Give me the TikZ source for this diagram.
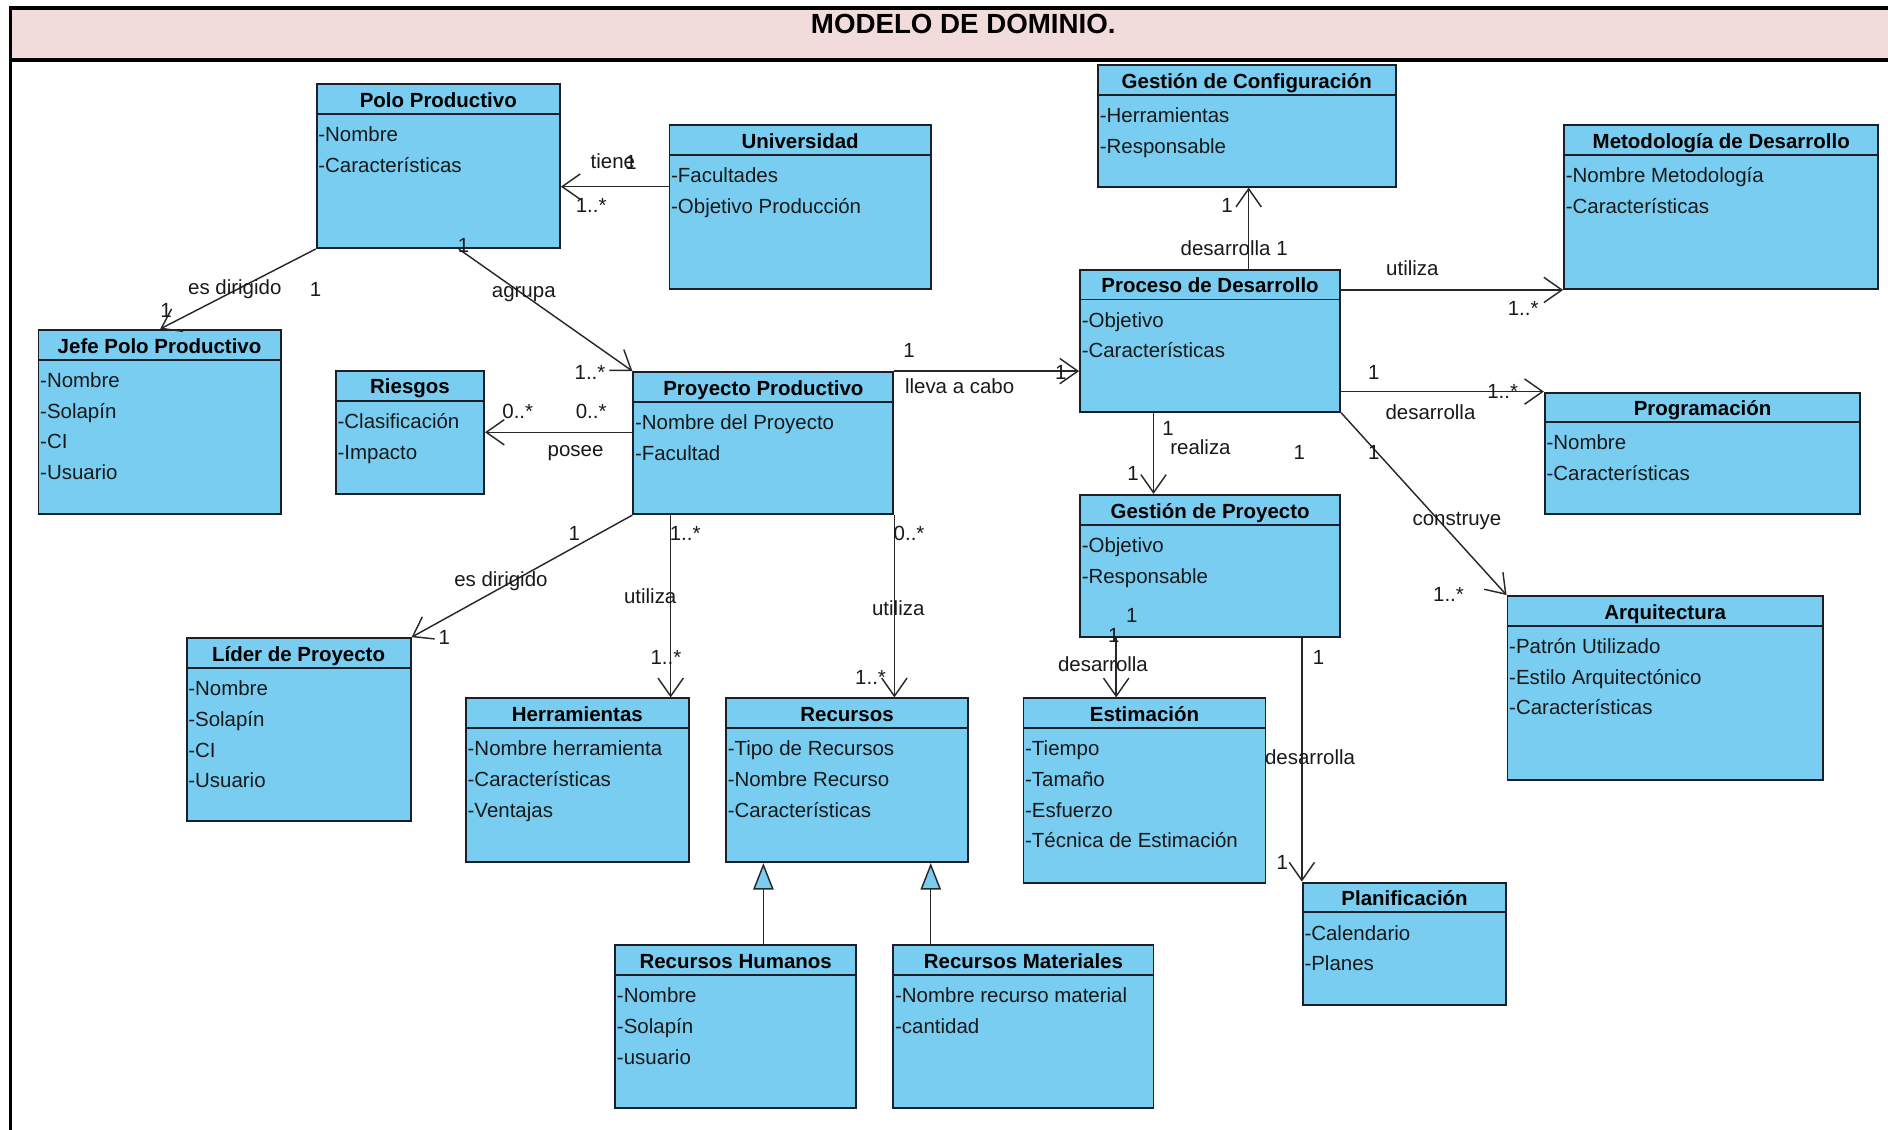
\documentclass[tikz,border=0pt]{standalone}
\usepackage{fontspec}
\setmainfont{Liberation Sans}
\usetikzlibrary{arrows.meta,calc,fit}

\definecolor{boxfill}{RGB}{120,205,241}
\definecolor{boxline}{RGB}{28,30,40}
\definecolor{bandfill}{RGB}{242,220,219}
\definecolor{wireline}{RGB}{40,40,40}

\tikzset{
  classbox/.style={draw=boxline, fill=boxfill, line width=1.6pt, inner sep=0pt, rectangle},
  classsep/.style={draw=boxline, line width=1.6pt},
  classtitle/.style={font=\bfseries\fontsize{17}{20}\selectfont, inner sep=0pt, anchor=base, text=black},
  attrtext/.style={font=\fontsize{17}{20}\selectfont, inner sep=0pt, anchor=base west, text=black!90},
  lbl/.style={font=\fontsize{17}{20}\selectfont, inner sep=0pt, text=black!90},
  assoc/.style={draw=wireline, line width=1.2pt,
    -{Straight Barb[length=15pt,width=21pt,line width=1.2pt]}},
  gener/.style={draw=wireline, line width=1.2pt,
    -{Triangle[open,length=22pt,width=17pt,line width=1.2pt,fill=boxfill]}},
}

% \umlclass{name}{left}{top}{right}{bottom}{title}{attribute list}
\newcommand\umlclass[7]{%
  \node[classbox, fit={(#2,#3) (#4,#5)}] (#1) {};
  \draw[classsep] ($(#1.north west)+(0,25.5)$) -- ($(#1.north east)+(0,25.5)$);
  \node[classtitle] (#1-title) at ($(#1.north)+(0,20)$) {#6};
  \foreach \attr [count=\i] in {#7} {
    \node[attrtext] (#1-attr\i) at ($(#1.north west)+(2,{48.5+(\i-1)*25.5})$) {\attr};
  }%
}

\begin{document}
\begin{tikzpicture}[x=1pt,y=-1pt]
\useasboundingbox (0,0) rectangle (1568,938);

% page frame and heading band
\fill[bandfill] (8.7,6.6) rectangle (1580,49.8);
\draw[line width=2.6pt] (8.7,950) -- (8.7,6.6) -- (1580,6.6);
\draw[line width=2.6pt] (8.7,49.8) -- (1580,49.8);
\node[font=\bfseries\fontsize{23}{27}\selectfont, inner sep=0pt] (heading) at (800,19.5) {MODELO DE DOMINIO.};

% classes
\umlclass{polo}{263}{70}{465}{206}{Polo Productivo}{-Nombre,-Características}
\umlclass{univ}{556}{104}{773}{240}{Universidad}{-Facultades,-Objetivo Producción}
\umlclass{jefe}{32}{274}{233}{427}{Jefe Polo Productivo}{-Nombre,-Solapín,-CI,-Usuario}
\umlclass{riesgos}{279}{308}{402}{410}{Riesgos}{-Clasificación,-Impacto}
\umlclass{proy}{526}{309}{742}{427}{Proyecto Productivo}{-Nombre del Proyecto,-Facultad}
\umlclass{gconf}{912}{54}{1159}{155}{Gestión de Configuración}{-Herramientas,-Responsable}
\umlclass{proc}{897}{224}{1113}{342}{Proceso de Desarrollo}{-Objetivo,-Características}
\umlclass{metod}{1299}{104}{1560}{240}{Metodología de Desarrollo}{-Nombre Metodología,-Características}
\umlclass{prog}{1283}{326}{1545}{427}{Programación}{-Nombre,-Características}
\umlclass{gproy}{897}{411}{1113}{529}{Gestión de Proyecto}{-Objetivo,-Responsable}
\umlclass{arq}{1252}{495}{1514}{648}{Arquitectura}{-Patrón Utilizado,-Estilo Arquitectónico,-Características}
\umlclass{lider}{155}{530}{341}{682}{Líder de Proyecto}{-Nombre,-Solapín,-CI,-Usuario}
\umlclass{herr}{387}{580}{572}{716}{Herramientas}{-Nombre herramienta,-Características,-Ventajas}
\umlclass{recursos}{603}{580}{804}{716}{Recursos}{-Tipo de Recursos,-Nombre Recurso,-Características}
\umlclass{estim}{850}{580}{1051}{733}{Estimación}{-Tiempo,-Tamaño,-Esfuerzo,-Técnica de Estimación}
\umlclass{planif}{1082}{733}{1251}{835}{Planificación}{-Calendario,-Planes}
\umlclass{rh}{511}{785}{711}{920}{Recursos Humanos}{-Nombre,-Solapín,-usuario}
\umlclass{rm}{742}{785}{958}{920}{Recursos Materiales}{-Nombre recurso material,-cantidad}

% associations
\draw[assoc] (univ.west |- 0,155) -- (polo.east |- 0,155);
\draw[assoc] (polo.south west) -- (133,0 |- jefe.north);
\draw[assoc] (381,0 |- polo.south) -- (proy.north west);
\draw[assoc] (proy.west |- 0,359) -- (riesgos.east |- 0,359);
\draw[assoc] (proy.north east) -- (proc.west |- proy.north);
\draw[assoc] (1037,0 |- proc.north) -- (1037,0 |- gconf.south);
\draw[assoc] (proc.east |- metod.south) -- (metod.south west);
\draw[assoc] (proc.east |- prog.north) -- (prog.north west);
\draw[assoc] (proc.south east) -- (arq.north west);
\draw[assoc] (958,0 |- proc.south) -- (958,0 |- gproy.north);
\draw[assoc] (proy.south west) -- (lider.north east);
\draw[assoc] (557,0 |- proy.south) -- (557,0 |- herr.north);
\draw[assoc] (proy.south east) -- (proy.south east |- recursos.north);
\draw[assoc] (927,0 |- gproy.south) -- (927,0 |- estim.north);
\draw[assoc] (planif.north west |- gproy.south) -- (planif.north west);

% generalizations
\draw[gener] (634,0 |- rh.north) -- (634,0 |- recursos.south);
\draw[gener] (773,0 |- rm.north) -- (773,0 |- recursos.south);

% role names and multiplicities
\node[lbl] (l-tiene) at (509,134) {tiene};
\node[lbl] (l-tiene1) at (524,135) {1};
\node[lbl] (l-univm) at (491,171) {1..*};
\node[lbl] (l-jefe) at (195,240) {es dirigido};
\node[lbl] (l-jefe1) at (262,240) {1};
\node[lbl] (l-jefe2) at (138,258) {1};
\node[lbl] (l-agr1) at (385,204) {1};
\node[lbl] (l-agr) at (435,244) {agrupa};
\node[lbl] (l-agrm) at (490,309) {1..*};
\node[lbl] (l-pos1) at (430,342) {0..*};
\node[lbl] (l-pos2) at (491,342) {0..*};
\node[lbl] (l-pos) at (478,376) {posee};
\node[lbl] (l-lle1) at (755,291) {1};
\node[lbl] (l-lle) at (797,321) {lleva a cabo};
\node[lbl] (l-lle2) at (881,309) {1};
\node[lbl] (l-conf1) at (1019,171) {1};
\node[lbl] (l-conf) at (1025,206) {desarrolla 1};
\node[lbl] (l-met) at (1173,223) {utiliza};
\node[lbl] (l-metm) at (1265,256) {1..*};
\node[lbl] (l-prog1) at (1141,309) {1};
\node[lbl] (l-prog) at (1188,342) {desarrolla};
\node[lbl] (l-progm) at (1248,325) {1..*};
\node[lbl] (l-arq1) at (1141,376) {1};
\node[lbl] (l-arq) at (1210,433) {construye};
\node[lbl] (l-arqm) at (1203,494) {1..*};
\node[lbl] (l-rea1) at (970,356) {1};
\node[lbl] (l-rea) at (997,371) {realiza};
\node[lbl] (l-rea2) at (941,393) {1};
\node[lbl] (l-free1) at (1079,376) {1};
\node[lbl] (l-lid1) at (477,443) {1};
\node[lbl] (l-lid) at (416,483) {es dirigido};
\node[lbl] (l-lid2) at (369,529) {1};
\node[lbl] (l-herm1) at (569,443) {1..*};
\node[lbl] (l-her) at (540,495) {utiliza};
\node[lbl] (l-herm2) at (553,546) {1..*};
\node[lbl] (l-recm1) at (755,443) {0..*};
\node[lbl] (l-rec) at (746,505) {utiliza};
\node[lbl] (l-recm2) at (723,563) {1..*};
\node[lbl] (l-est1) at (940,511) {1};
\node[lbl] (l-est2) at (925,528) {1};
\node[lbl] (l-est) at (916,552) {desarrolla};
\node[lbl] (l-pla1) at (1095,546) {1};
\node[lbl] (l-pla) at (1088,629) {desarrolla};
\node[lbl] (l-pla2) at (1065,716) {1};
\end{tikzpicture}
\end{document}
